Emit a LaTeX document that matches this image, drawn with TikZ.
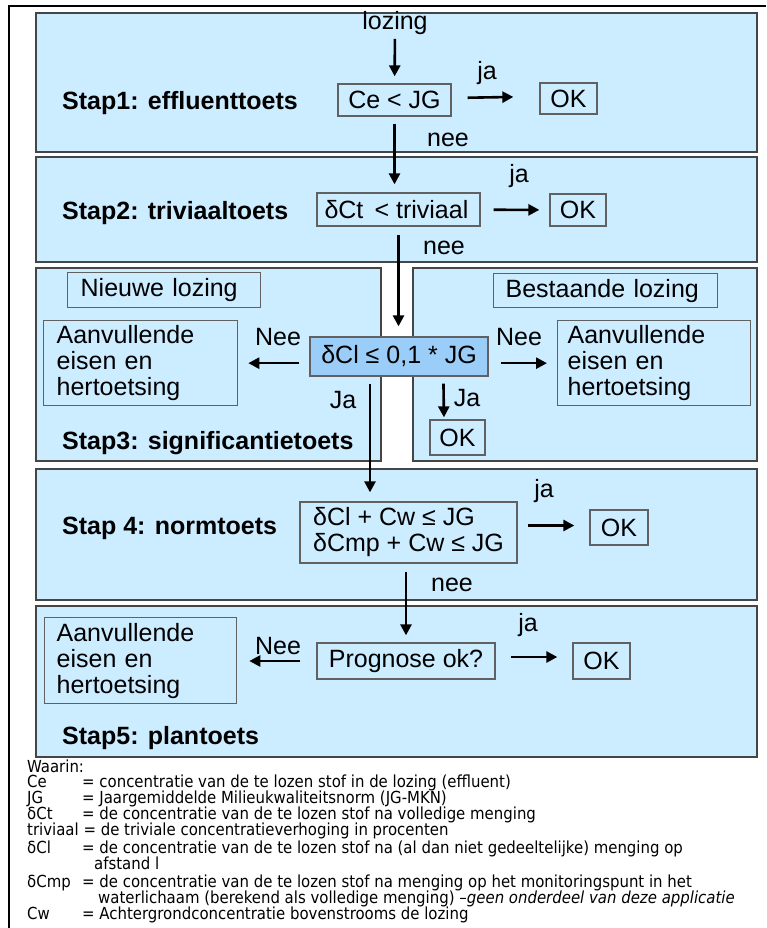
\documentclass[tikz,border=0pt]{standalone}
\usepackage{fontspec}
\setmainfont{Liberation Sans}
\newfontfamily\legendfont{DejaVu Sans Condensed}
\usetikzlibrary{arrows.meta}
\definecolor{paneelblauw}{HTML}{CCECFF}
\definecolor{toetsblauw}{HTML}{9ACDF8}
\definecolor{randgrijs}{HTML}{454545}
\begin{document}
\begin{tikzpicture}[x=1pt,y=-1pt,
    paneel/.style={draw=randgrijs,line width=2.2pt,fill=paneelblauw},
    vak/.style={draw=randgrijs!85,line width=1.3pt,inner sep=0pt,font=\fontsize{25}{26}\selectfont},
    linksvak/.style={vak,align=left,inner xsep=13pt},
    tekst/.style={inner sep=0pt,font=\fontsize{25}{26}\selectfont},
    staptekst/.style={inner sep=0pt,anchor=base west,font=\fontsize{25}{26}\selectfont\bfseries},
    pijl/.style={-{Triangle[length=11pt,width=11pt]},line width=2.6pt},
    legenda/.style={inner sep=0pt,anchor=base west,font=\legendfont\fontsize{16.6}{16}\selectfont}]
    \useasboundingbox (0,0) rectangle (766,928);
    \draw[line width=1.6pt] (9,928) -- (9,6) -- (766,6);
    \draw[paneel] (36,13) rectangle (757,152);
    \draw[paneel] (36,157) rectangle (757,262);
    \draw[paneel] (36,268) rectangle (381,461);
    \draw[paneel] (413,268) rectangle (757,461);
    \draw[paneel] (36,469) rectangle (757,600);
    \draw[paneel] (36,606) rectangle (757,757);

    % stap 1
    \node[tekst] (lozing) at (395,23) {lozing};
    \node[staptekst] (stap1) at (62,110) {Stap1: effluenttoets};
    \node[vak,minimum width=113,minimum height=32] (ce) at (394.5,100) {Ce < JG};
    \node[vak,minimum width=57,minimum height=31] (ok1) at (568.5,98.5) {OK};
    \node[tekst] (ja1) at (487,73) {ja};
    \node[tekst] (nee1) at (448,140) {nee};
    \draw[pijl,shorten <=4pt,shorten >=7pt] (lozing) -- (ce);
    \draw[pijl,shorten <=16pt,shorten >=26pt] ([yshift=2pt]ce.east) -- ([yshift=2pt]ok1.west);

    % stap 2
    \node[staptekst] (stap2) at (62,219) {Stap2: triviaaltoets};
    \node[vak,minimum width=163,minimum height=33] (triv) at (398.5,209.5) {$\!$δCt \,< triviaal};
    \node[vak,minimum width=56,minimum height=32] (ok2) at (578,210) {OK};
    \node[tekst] (ja2) at (519,176) {ja};
    \node[tekst] (nee2) at (444,248) {nee};
    \draw[pijl,shorten <=7pt,shorten >=8pt] (ce.south) -- (ce.south |- triv.north);
    \draw[pijl,shorten <=13pt,shorten >=10pt] (triv) -- (ok2);

    % stap 3
    \node[staptekst] (stap3) at (62,449) {Stap3: significantietoets};
    \node[linksvak,text width=167,minimum height=35,anchor=north west] (nieuw) at (67,272) {Nieuwe lozing};
    \node[linksvak,text width=200,minimum height=34,anchor=north west,inner xsep=12pt] (bestaand) at (493,273) {Bestaande lozing};
    \node[vak,fill=toetsblauw,minimum width=178,minimum height=39] (dcl) at (399,356.5) {δCl ≤ 0,1 * JG};
    \node[linksvak,text width=168,minimum height=85,anchor=north west] (aanv1) at (43,320) {Aanvullende\\eisen en\\hertoetsing};
    \node[linksvak,text width=173,minimum height=85,anchor=north west,inner xsep=10pt] (aanv2) at (557,320) {Aanvullende\\eisen en\\hertoetsing};
    \node[vak,minimum width=55,minimum height=35] (ok3) at (457.5,437.5) {OK};
    \node[tekst] (nee3l) at (278,337) {Nee};
    \node[tekst] (nee3r) at (519,337) {Nee};
    \node[tekst] (ja3l) at (343,400) {Ja};
    \node[tekst] (ja3r) at (467,398) {Ja};
    \draw[pijl,shorten <=8pt,shorten >=10pt] (triv.south) -- (triv.south |- dcl.north);
    \draw[pijl,shorten <=10pt,shorten >=10pt] (dcl.west |- aanv1) -- (aanv1);
    \draw[pijl,shorten <=12pt,shorten >=10pt] (dcl.east |- aanv2) -- (aanv2);
    \draw[pijl,shorten <=7pt,shorten >=2pt] (dcl.south -| ok3.north west) ++(14,0) -- (ok3.north west -| 444,0);

    % stap 4
    \node[staptekst] (stap4) at (62,534) {Stap 4: normtoets};
    \node[vak,align=left,minimum width=217,minimum height=61] (norm) at (408.5,532.5) {δCl + Cw ≤ JG\\δCmp + Cw ≤ JG};
    \node[vak,minimum width=58,minimum height=35] (ok4) at (619,527.5) {OK};
    \node[tekst] (ja4) at (544,491) {ja};
    \node[tekst] (nee4) at (452,585) {nee};
    \draw[pijl,shorten <=7pt,shorten >=9pt] ([xshift=-29pt]dcl.south) -- ([xshift=-29pt]dcl.south |- norm.north);
    \draw[pijl,shorten <=10pt,shorten >=15pt] ([yshift=2pt]norm.east |- ok4) -- ([yshift=2pt]ok4.west);

    % stap 5
    \node[staptekst] (stap5) at (62,744) {Stap5: plantoets};
    \node[vak,minimum width=178,minimum height=36] (prog) at (406,661) {Prognose ok?};
    \node[linksvak,text width=168,minimum height=86,anchor=north west,inner xsep=12pt] (aanv3) at (44,617) {Aanvullende\\eisen en\\hertoetsing};
    \node[vak,minimum width=57,minimum height=36] (ok5) at (601.5,661) {OK};
    \node[tekst] (ja5) at (528,625) {ja};
    \node[tekst] (nee5) at (278,646) {Nee};
    \draw[pijl,shorten <=8pt,shorten >=7pt] (norm.south -| prog) -- (prog);
    \draw[pijl,shorten <=16pt,shorten >=12pt] (prog.west) -- (aanv3.east |- prog.west);
    \draw[pijl,shorten <=15pt,shorten >=15pt] ([yshift=4pt]prog.east) -- ([yshift=4pt]ok5.west);

    % legenda
    \node[legenda] (waarin) at (27,772) {Waarin:};
    \foreach \y/\term/\uitleg in {787/Ce/= concentratie van de te lozen stof in de lozing (effluent),
        803/JG/= Jaargemiddelde Milieukwaliteitsnorm (JG-MKN),
        819/δCt/= de concentratie van de te lozen stof na volledige menging,
        853/δCl/= de concentratie van de te lozen stof na (al dan niet gedeeltelijke) menging op,
        887/δCmp/= de concentratie van de te lozen stof na menging op het monitoringspunt in het,
        919/Cw/= Achtergrondconcentratie bovenstrooms de lozing}{
      \node[legenda] (term\y) at (27,\y) {\term};
      \node[legenda] (uitleg\y) at (82,\y) {\uitleg};
    }
    \node[legenda] (triviaal) at (27,835) {triviaal = de triviale concentratieverhoging in procenten};
    \node[legenda] (afstand) at (94,869) {afstand l};
    \node[legenda] (water) at (98,903) {waterlichaam (berekend als volledige menging) \textit{–geen onderdeel van deze applicatie}};
\end{tikzpicture}
\end{document}
